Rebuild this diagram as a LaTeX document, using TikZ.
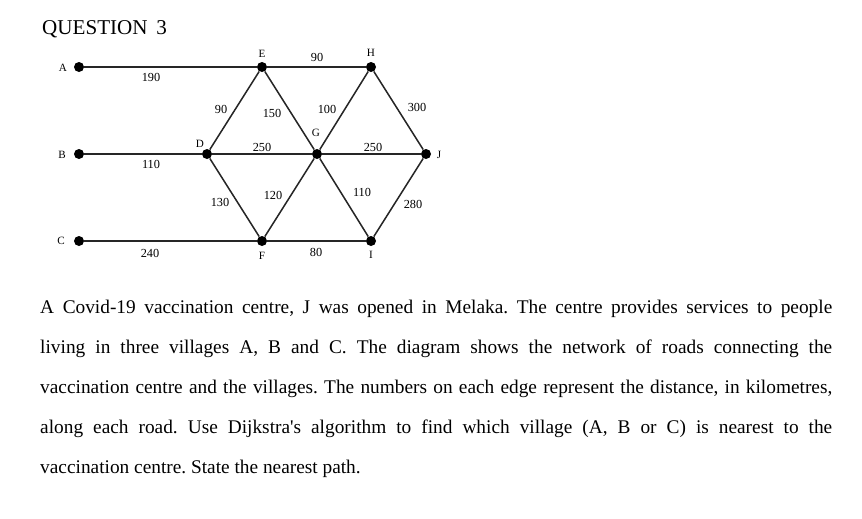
\documentclass[tikz,border=0pt]{standalone}
\usepackage{fontspec}
\setmainfont{Liberation Serif}
\usetikzlibrary{positioning}

\begin{document}
\begin{tikzpicture}[
      x=0.03cm, y=-0.03cm,
      dot/.style={circle, fill=black, inner sep=0pt, minimum size=0.3cm},
      road/.style={line width=1.3pt, black!85},
      vlab/.style={font=\fontsize{9.5}{10}\selectfont, inner sep=0pt},
      num/.style={font=\fontsize{10.5}{12}\selectfont, inner sep=0pt}
    ]
    \useasboundingbox (0,0) rectangle (862,518);
    \node[anchor=base west, inner sep=0pt, font=\fontsize{18}{20}\selectfont] (title) at (42,34) {QUESTION\, 3};
    % villages and junctions
    \node[dot] (A) at (79,67) {};
    \node[dot] (B) at (79,154) {};
    \node[dot] (C) at (79,241) {};
    \node[dot] (D) at (207,154) {};
    \node[dot] (E) at (262,67) {};
    \node[dot] (F) at (262,241) {};
    \node[dot] (G) at (317,154) {};
    \node[dot] (H) at (371,67) {};
    \node[dot] (I) at (371,241) {};
    \node[dot] (J) at (426,154) {};
    \node[vlab] (lA) at (63,68) {A};
    \node[vlab] (lB) at (62,155) {B};
    \node[vlab] (lC) at (61,241) {C};
    \node[vlab] (lD) at (200,144) {D};
    \node[vlab] (lE) at (262,54) {E};
    \node[vlab] (lF) at (262,256) {F};
    \node[vlab] (lG) at (316,133) {G};
    \node[vlab] (lH) at (371,53) {H};
    \node[vlab] (lI) at (371,255) {I};
    \node[vlab] (lJ) at (439,155) {J};
    % roads
    \draw[road] (A) -- (E);
    \draw[road] (B) -- (D);
    \draw[road] (C) -- (F);
    \draw[road] (E) -- (H);
    \draw[road] (D) -- (G) -- (J);
    \draw[road] (F) -- (I);
    \draw[road] (D) -- (E) -- (G) -- (H) -- (J);
    \draw[road] (D) -- (F) -- (G) -- (I) -- (J);
    % distances
    \node[num] (dAE) at (151,77) {190};
    \node[num] (dBD) at (151,164) {110};
    \node[num] (dCF) at (150,253) {240};
    \node[num] (dEH) at (317,57) {90};
    \node[num] (dDE) at (221,109) {90};
    \node[num] (dEG) at (272,113) {150};
    \node[num] (dGH) at (327,109) {100};
    \node[num] (dHJ) at (417,107) {300};
    \node[num] (dDG) at (262,147) {250};
    \node[num] (dGJ) at (373,147) {250};
    \node[num] (dDF) at (220,202) {130};
    \node[num] (dFG) at (273,195) {120};
    \node[num] (dGI) at (362,192) {110};
    \node[num] (dIJ) at (413,204) {280};
    \node[num] (dFI) at (316,252) {80};
    % question text
    \node[anchor=north west, inner sep=0pt, text width=23.76cm, align=justify,
          font=\fontsize{16.5}{34.2}\selectfont\frenchspacing] (text) at (40,300) {%
      A Covid-19 vaccination centre, J was opened in Melaka. The centre provides services to people\linebreak
      living in three villages A, B and C. The diagram shows the network of roads connecting the\linebreak
      vaccination centre and the villages. The numbers on each edge represent the distance, in kilometres,\linebreak
      along each road. Use Dijkstra\textquotesingle s algorithm to find which village (A, B or C) is nearest to the\linebreak
      vaccination centre. State the nearest path.};
  \end{tikzpicture}
\end{document}
